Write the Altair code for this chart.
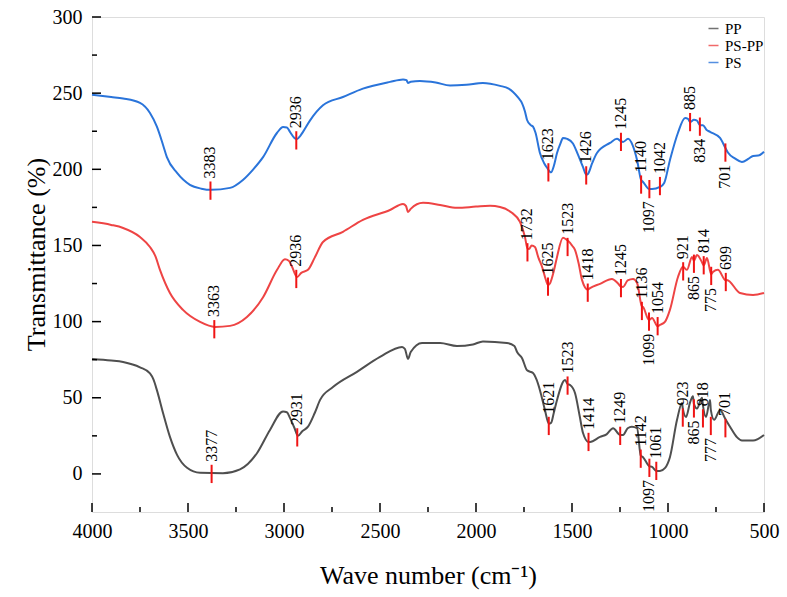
import altair as alt
import pandas as pd

# ---------------- spectra (wave number, transmittance) ----------------
ps_wn = [4000, 3900, 3838, 3750, 3698, 3662, 3630, 3610, 3557, 3490, 3430, 3380, 3281, 3214, 3160,
         3109, 3036, 3005, 2985, 2969, 2945, 2932, 2915, 2901, 2865, 2797, 2693, 2589, 2448, 2380,
         2362, 2354, 2340, 2292, 2210, 2135, 2050, 1964, 1875, 1830, 1807, 1780, 1760, 1745, 1734,
         1715, 1703, 1690, 1667, 1645, 1630, 1609, 1595, 1578, 1560, 1547, 1525, 1495, 1470, 1443,
         1426, 1417, 1395, 1370, 1302, 1266, 1245, 1234, 1208, 1185, 1161, 1140, 1130, 1097, 1083,
         1042, 1020, 990, 948, 911, 895, 885, 865, 849, 834, 818, 800, 781, 729, 701, 688, 650, 615,
         580, 557, 530, 500]
ps_t = [249, 247.5, 246.5, 243.6, 237, 228, 216, 208, 197.6, 189.8, 187.3, 186.5, 187.8, 193, 200,
        208, 224, 227.8, 227.5, 224.6, 220.5, 219.9, 222, 224.6, 232, 242, 247.5, 253, 257.4, 259,
        258.5, 256.7, 257.5, 258, 257, 255, 255.5, 256.7, 254.8, 253, 250.8, 247, 243.3, 238, 232.4,
        229, 228, 224, 210.7, 204, 201, 198, 202, 210.7, 217, 220.6, 220, 217, 210, 201.6,
        196.5, 197, 204, 210.7, 217.3, 220, 218.5, 218, 220, 216, 206, 193, 191.7, 187, 187,
        188.4, 191, 206, 224, 233.7, 233, 231, 232.5, 232, 229, 229, 226, 224.6, 220.6, 214, 211, 207, 204.8,
        207, 208.8, 209, 211.5]

pspp_wn = [4000, 3900, 3838, 3750, 3698, 3670, 3646, 3594, 3526, 3437, 3359, 3281, 3193, 3109, 3036,
           2995, 2975, 2958, 2932, 2910, 2875, 2840, 2797, 2693, 2589, 2448, 2380, 2365, 2354, 2340,
           2276, 2187, 2099, 2000, 1927, 1875, 1813, 1771, 1745, 1732, 1724, 1710, 1693, 1675, 1656,
           1635, 1625, 1615, 1595, 1578, 1547, 1530, 1510, 1500, 1484, 1465, 1448, 1418, 1406, 1354,
           1292, 1260, 1245, 1234, 1210, 1182, 1161, 1136, 1130, 1099, 1083, 1054, 1042, 1015, 990,
           948, 922, 901, 875, 865, 849, 823, 814, 797, 775, 766, 740, 699, 693, 625, 557, 500]
pspp_t = [165.5, 163.5, 161.5, 155.6, 149, 143, 134, 118.8, 107.7, 99.8, 96.5, 97.2, 103, 116, 134,
          141, 140, 136, 129.3, 132, 134, 142, 152.3, 159, 166.8, 173.3, 177.3, 176, 172, 174,
          178, 176.6, 174.7, 175.5, 176, 175.3, 171.4, 165.5, 155.6, 148, 147.7, 150, 149, 142, 136,
          127, 124, 125, 133, 142.5, 155, 154, 151.7, 150, 147, 138, 127.4, 121, 122, 124.8,
          128, 125, 123, 122.8, 127, 128, 125.4, 110, 109.6, 101, 102.4, 97, 97.8, 100, 107.7,
          129.3, 136, 134, 142.5, 140, 143.8, 139, 137, 141.8, 131, 132.6, 134, 127, 127.4, 118.8, 117.5, 118.8]

pp_wn = [4000, 3900, 3838, 3750, 3698, 3680, 3662, 3630, 3594, 3557, 3505, 3437, 3318, 3229, 3141,
         3073, 3005, 2985, 2969, 2945, 2927, 2905, 2875, 2840, 2812, 2745, 2620, 2500, 2385, 2370,
         2354, 2340, 2281, 2187, 2099, 2016, 1964, 1839, 1800, 1786, 1760, 1734, 1703, 1685, 1667,
         1641, 1621, 1609, 1595, 1578, 1536, 1523, 1510, 1484, 1460, 1443, 1414, 1406, 1354, 1320,
         1286, 1249, 1234, 1210, 1188, 1161, 1142, 1130, 1097, 1083, 1061, 1042, 1015, 990, 953,
         927, 923, 906, 885, 870, 865, 849, 823, 818, 802, 781, 777, 760, 729, 701, 677, 640, 615,
         557, 500]
pp_t = [75.5, 74.5, 73.5, 70, 66, 62, 55, 40, 24.3, 12.5, 4, 0.7, 0.5, 3, 13.6,
        28.9, 41, 40.5, 36.8, 30, 25, 28, 31, 40, 48.6, 57, 67, 76.8, 83.4, 82,
        75.5, 80, 86, 86, 84, 85, 87, 86, 84, 80, 76, 68, 66.3, 62, 55,
        42, 33, 33.5, 40, 48.6, 61.7, 59, 58.4, 53, 38, 27, 21, 21, 24.3, 26,
        30, 25.6, 25.6, 30, 31, 30, 12, 11, 5, 4.6, 2, 2, 4, 11, 35.5,
        46.6, 43, 37.4, 47, 51, 46, 43, 50, 45, 37.4, 48.6, 42, 35.5, 42, 36, 31, 24, 22,
        22, 25.6]

# ---------------- peak markers ----------------
mk_series = (["PS"] * 11) + (["PS-PP"] * 15) + (["PP"] * 14)
mk_wn = [3383, 2936, 1623, 1426, 1245, 1140, 1097, 1042, 885, 834, 701,
         3363, 2936, 1732, 1625, 1523, 1418, 1245, 1136, 1099, 1054, 921, 865, 814, 775, 699,
         3377, 2931, 1621, 1523, 1414, 1249, 1142, 1097, 1061, 923, 865, 818, 777, 701]
mk_center = [186, 219, 198, 196, 218, 190, 187, 189, 231, 228, 211,
             95, 128, 145.5, 123, 149, 119, 122, 107, 100, 97, 133, 138, 137, 130, 126,
             0, 24, 31.5, 58, 21, 25, 10, 4, 2, 37, 43, 36.5, 31.5, 30]
mk_side = ["up", "up", "up", "up", "up", "up", "down", "up", "up", "down", "down",
           "up", "up", "up", "up", "up", "up", "up", "up", "down", "up", "up", "down", "up", "down", "up",
           "up", "up", "up", "up", "up", "up", "up", "down", "up", "up", "down", "up", "down", "up"]

series_names = ["PP", "PS-PP", "PS"]
series_colors = ["#4f4f4f", "#ee4444", "#2a74da"]

x_major = [4000, 3500, 3000, 2500, 2000, 1500, 1000, 500]
x_minor = [3750, 3250, 2750, 2250, 1750, 1250, 750]
y_major = [0, 50, 100, 150, 200, 250, 300]
y_minor = [25, 75, 125, 175, 225, 275]

FONT = "Liberation Serif"

spec = pd.concat([
    pd.DataFrame({"wn": pp_wn, "T": pp_t, "series": "PP"}),
    pd.DataFrame({"wn": pspp_wn, "T": pspp_t, "series": "PS-PP"}),
    pd.DataFrame({"wn": ps_wn, "T": ps_t, "series": "PS"}),
], ignore_index=True)

marks = pd.DataFrame({"series": mk_series, "wn": mk_wn, "c": mk_center, "side": mk_side,
                      "label": [str(v) for v in mk_wn]})

xscale = alt.Scale(domain=[4000, 500], nice=False, zero=False)
yscale = alt.Scale(domain=[-25, 300], nice=False, zero=False)

x_enc = alt.X("wn:Q", scale=xscale,
              axis=alt.Axis(values=x_major, title="Wave number (cm⁻¹)", ticks=False, domain=False,
                            grid=False, labelFont=FONT, labelFontSize=20, labelColor="black",
                            labelPadding=9, labelOverlap=False, labelFlush=False, format="d",
                            titleFont=FONT, titleFontSize=26, titleFontWeight="normal",
                            titleColor="black", titleY=63, titleBaseline="middle"))
y_enc = alt.Y("T:Q", scale=yscale,
              axis=alt.Axis(values=y_major, title="Transmittance (%)", ticks=False, domain=False,
                            grid=False, labelFont=FONT, labelFontSize=20, labelColor="black",
                            labelPadding=10, labelFlush=False, labelOverlap=False, format="d",
                            titleFont=FONT, titleFontSize=26, titleFontWeight="normal",
                            titleColor="black", titleX=-56, titleY=237, titleBaseline="middle",
                            titleAlign="center", titleAngle=270))

lines = alt.Chart(spec).mark_line(strokeWidth=2, interpolate="monotone").encode(
    x=x_enc, y=y_enc,
    color=alt.Color("series:N", scale=alt.Scale(domain=series_names, range=series_colors),
                    legend=alt.Legend(title=None, orient="none", legendX=614, legendY=4,
                                      symbolType="stroke", symbolSize=100, symbolStrokeWidth=1.5,
                                      labelFont=FONT, labelFontSize=15, labelColor="black",
                                      rowPadding=1, padding=0, symbolOpacity=0.8)),
    detail="series:N",
    order=alt.Order("wn:Q", sort="descending"),
)

mk_base = alt.Chart(marks).transform_calculate(lo="datum.c - 6", hi="datum.c + 6")
mk_rules = mk_base.mark_rule(color="#f01414", strokeWidth=2).encode(
    x=alt.X("wn:Q", scale=xscale), y=alt.Y("lo:Q", scale=yscale), y2="hi:Q")
mk_up = mk_base.transform_filter("datum.side == 'up'").mark_text(
    angle=270, align="left", baseline="middle", dx=3, font=FONT, fontSize=16, color="black").encode(
    x=alt.X("wn:Q", scale=xscale), y=alt.Y("hi:Q", scale=yscale), text="label:N")
mk_down = mk_base.transform_filter("datum.side == 'down'").mark_text(
    angle=270, align="right", baseline="middle", dx=-3, font=FONT, fontSize=16, color="black").encode(
    x=alt.X("wn:Q", scale=xscale), y=alt.Y("lo:Q", scale=yscale), text="label:N")

# inward axis ticks
xt = pd.DataFrame({"v": x_major + x_minor, "len": [9] * len(x_major) + [5] * len(x_minor)})
yt = pd.DataFrame({"v": y_major + y_minor, "len": [9] * len(y_major) + [5] * len(y_minor)})
xtick_major = alt.Chart(xt[xt["len"] == 9]).mark_rule(color="black", strokeWidth=1.5).encode(
    x=alt.X("v:Q", scale=xscale), y=alt.value(495), y2=alt.value(486))
xtick_minor = alt.Chart(xt[xt["len"] == 5]).mark_rule(color="black", strokeWidth=1.5).encode(
    x=alt.X("v:Q", scale=xscale), y=alt.value(495), y2=alt.value(490))
ytick_major = alt.Chart(yt[yt["len"] == 9]).mark_rule(color="black", strokeWidth=1.5).encode(
    y=alt.Y("v:Q", scale=yscale), x=alt.value(0), x2=alt.value(9))
ytick_minor = alt.Chart(yt[yt["len"] == 5]).mark_rule(color="black", strokeWidth=1.5).encode(
    y=alt.Y("v:Q", scale=yscale), x=alt.value(0), x2=alt.value(5))

chart = alt.layer(lines, mk_rules, mk_up, mk_down,
                  xtick_major, xtick_minor, ytick_major, ytick_minor).properties(
    width=672, height=495,
    autosize=alt.AutoSizeParams(type="none"),
    padding={"left": 92, "top": 17, "right": 23, "bottom": 85},
).configure_view(stroke="black", strokeWidth=1.5).configure_axis(
    labelFont=FONT, titleFont=FONT
).configure_legend(labelFont=FONT).configure(background="white", font=FONT)

chart.save("out.html", embed_options={"renderer": "svg", "actions": False})
